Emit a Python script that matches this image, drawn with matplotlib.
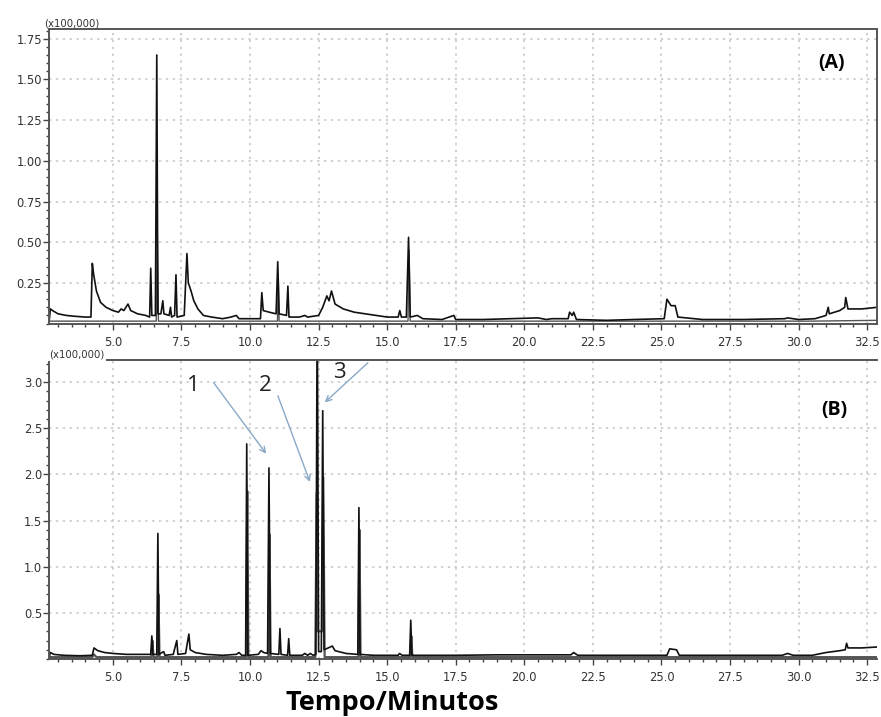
import matplotlib.pyplot as plt
from matplotlib.ticker import MultipleLocator, FormatStrFormatter

# chromatogram (A): time (min), intensity (x100,000)
tA = [2.68, 2.72, 2.80, 3.0, 3.3, 3.6, 4.0, 4.2, 4.25, 4.30, 4.40, 4.55, 4.75, 5.0,
      5.2, 5.3, 5.4, 5.55, 5.65, 5.9, 6.2, 6.34, 6.38, 6.42, 6.55, 6.60, 6.64, 6.75,
      6.82, 6.86, 7.05, 7.10, 7.14, 7.25, 7.30, 7.34, 7.60, 7.70, 7.75, 7.85, 7.95,
      8.1, 8.3, 8.6, 9.0, 9.3, 9.5, 9.6, 10.0, 10.38, 10.43, 10.48, 10.7, 10.95,
      11.01, 11.06, 11.33, 11.38, 11.42, 11.8, 12.0, 12.1, 12.5, 12.65, 12.80, 12.88,
      12.97, 13.1, 13.4, 13.8, 14.2, 14.6, 15.0, 15.40, 15.46, 15.52, 15.70, 15.78,
      15.84, 16.1, 16.3, 17.0, 17.43, 17.5, 18.5, 19.5, 20.5, 20.8, 21.0, 21.6,
      21.65, 21.75, 21.8, 21.9, 23.0, 24.0, 25.1, 25.2, 25.35, 25.5, 25.6, 26.5,
      28.0, 29.5, 29.6, 30.0, 30.6, 31.0, 31.08, 31.12, 31.5, 31.68, 31.72, 31.8,
      32.3, 32.86]
iA = [0.02, 0.09, 0.08, 0.06, 0.05, 0.045, 0.04, 0.04, 0.37, 0.30, 0.20, 0.13, 0.10, 0.08,
      0.07, 0.09, 0.08, 0.12, 0.08, 0.06, 0.05, 0.04, 0.34, 0.05, 0.05, 1.65, 0.06, 0.06,
      0.14, 0.06, 0.05, 0.10, 0.04, 0.05, 0.30, 0.04, 0.05, 0.43, 0.25, 0.20, 0.14,
      0.09, 0.05, 0.04, 0.03, 0.04, 0.05, 0.03, 0.03, 0.03, 0.19, 0.08, 0.07, 0.06,
      0.38, 0.06, 0.05, 0.23, 0.04, 0.04, 0.05, 0.04, 0.05, 0.10, 0.17, 0.14,
      0.20, 0.12, 0.09, 0.07, 0.06, 0.05, 0.04, 0.04, 0.08, 0.04, 0.04, 0.53,
      0.04, 0.05, 0.03, 0.025, 0.05, 0.025, 0.025, 0.03, 0.035, 0.025, 0.03, 0.03,
      0.07, 0.05, 0.07, 0.025, 0.02, 0.025, 0.03, 0.15, 0.11, 0.11, 0.04, 0.025,
      0.025, 0.03, 0.035, 0.025, 0.03, 0.05, 0.10, 0.06, 0.08, 0.10, 0.16, 0.09,
      0.09, 0.10]
# second (overlaid) trace in (A)
tA2 = [2.68, 6.58, 6.62, 6.66, 11.0, 11.03, 11.06, 15.76, 15.80, 15.84, 30.5, 32.86]
iA2 = [0.015, 0.015, 0.55, 0.015, 0.015, 0.30, 0.015, 0.015, 0.45, 0.015, 0.015, 0.02]

# chromatogram (B)
tB = [2.68, 2.72, 2.85, 3.2, 3.8, 4.25, 4.31, 4.45, 4.7, 5.0, 5.5, 6.0, 6.38, 6.42,
      6.46, 6.60, 6.64, 6.68, 6.85, 6.9, 7.2, 7.33, 7.37, 7.65, 7.77, 7.82, 8.0, 8.4,
      9.0, 9.5, 9.6, 9.7, 9.84, 9.88, 9.92, 10.3, 10.4, 10.5, 10.64, 10.69, 10.74,
      11.05, 11.09, 11.13, 11.37, 11.41, 11.45, 11.9, 12.0, 12.1, 12.2, 12.3, 12.40,
      12.45, 12.50, 12.60, 12.65, 12.70, 12.85, 13.0, 13.1, 13.5, 13.93, 13.97, 14.01,
      14.5, 15.4, 15.45, 15.55, 15.82, 15.86, 15.90, 16.5, 17.5, 19.0, 20.5, 21.7,
      21.8, 21.95, 23.0, 24.5, 25.2, 25.3, 25.55, 25.65, 27.0, 29.4, 29.6, 29.8,
      30.5, 31.0, 31.5, 31.7, 31.75, 31.8, 32.3, 32.86]
iB = [0.02, 0.07, 0.05, 0.04, 0.035, 0.04, 0.12, 0.09, 0.07, 0.06, 0.05, 0.05, 0.05, 0.25,
      0.05, 0.05, 1.36, 0.05, 0.08, 0.04, 0.05, 0.20, 0.05, 0.06, 0.27, 0.10, 0.07, 0.05,
      0.04, 0.05, 0.07, 0.04, 0.04, 2.33, 0.04, 0.05, 0.09, 0.07, 0.06, 2.07, 0.06,
      0.05, 0.33, 0.05, 0.04, 0.22, 0.04, 0.04, 0.06, 0.04, 0.06, 0.04, 0.05,
      4.00, 0.08, 0.08, 2.69, 0.10, 0.12, 0.14, 0.09, 0.06, 0.05, 1.64, 0.05,
      0.04, 0.04, 0.06, 0.04, 0.04, 0.42, 0.04, 0.04, 0.04, 0.045, 0.045, 0.045,
      0.07, 0.04, 0.04, 0.04, 0.04, 0.11, 0.10, 0.04, 0.04, 0.04, 0.06, 0.04,
      0.04, 0.07, 0.09, 0.10, 0.17, 0.12, 0.12, 0.13]
# second (overlaid) trace in (B)
tB2 = [2.68, 4.25, 4.31, 4.40, 6.40, 6.44, 6.48, 6.62, 6.66, 6.70, 9.86, 9.90, 9.94,
       10.67, 10.71, 10.75, 12.38, 12.43, 12.47, 12.55, 12.63, 12.67, 12.72, 13.95,
       13.99, 14.03, 15.84, 15.88, 15.92, 32.86]
iB2 = [0.02, 0.02, 0.05, 0.02, 0.02, 0.20, 0.02, 0.02, 0.70, 0.02, 0.02, 1.82, 0.02,
       0.02, 1.35, 0.02, 0.02, 1.80, 0.30, 0.30, 0.30, 1.97, 0.02, 0.02,
       1.40, 0.02, 0.02, 0.25, 0.02, 0.02]

xticks = [5.0, 7.5, 10.0, 12.5, 15.0, 17.5, 20.0, 22.5, 25.0, 27.5, 30.0, 32.5]
yticksA = [0.25, 0.50, 0.75, 1.00, 1.25, 1.50, 1.75]
yticksB = [0.5, 1.0, 1.5, 2.0, 2.5, 3.0]

fig = plt.figure(figsize=(8.81, 7.17), dpi=100)
axA = fig.add_axes([0.0556, 0.5487, 0.9399, 0.4109])
axB = fig.add_axes([0.0556, 0.0809, 0.9399, 0.4170])

tick_col = "#333333"
for ax in (axA, axB):
    ax.set_xlim(2.67, 32.86)
    ax.set_xticks(xticks)
    ax.xaxis.set_major_formatter(FormatStrFormatter("%.1f"))
    ax.xaxis.set_minor_locator(MultipleLocator(0.5))
    ax.grid(True, which="major", color="#c4c4c4", ls=(0, (1.5, 3)), lw=1.1)
    ax.tick_params(which="both", direction="out", colors="#444444",
                   labelsize=8.3, labelcolor=tick_col, width=1.0)
    ax.tick_params(which="major", length=4)
    ax.tick_params(which="minor", length=2.5)
    ax.tick_params(axis="y", which="both", pad=1)
    ax.tick_params(axis="x", which="both", pad=5)
    for s in ax.spines.values():
        s.set_color("#555555")
        s.set_linewidth(1.4)

axA.plot(tA2, iA2, color="#555555", lw=1.0)
axA.plot(tA, iA, color="#111111", lw=1.2)
axA.set_ylim(0.0, 1.81)
axA.set_yticks(yticksA)
axA.yaxis.set_major_formatter(FormatStrFormatter("%.2f"))
axA.yaxis.set_minor_locator(MultipleLocator(0.05))
axA.text(31.2, 1.60, "(A)", fontsize=14, fontweight="bold", ha="center", va="center",
         family="Open Sans")
axA.text(0.028, 1.003, "(x100,000)", transform=axA.transAxes, fontsize=7.3,
         color=tick_col, ha="center", va="bottom")

axB.plot(tB2, iB2, color="#555555", lw=1.6)
axB.plot(tB, iB, color="#111111", lw=1.2)
axB.set_ylim(0.0, 3.24)
axB.set_yticks(yticksB)
axB.yaxis.set_major_formatter(FormatStrFormatter("%.1f"))
axB.yaxis.set_minor_locator(MultipleLocator(0.1))
axB.spines["right"].set_visible(False)
axB.text(31.3, 2.70, "(B)", fontsize=14, fontweight="bold", ha="center", va="center",
         family="Open Sans")
axB.text(0.034, 1.003, "(x100,000)", transform=axB.transAxes, fontsize=7.3,
         color=tick_col, ha="center", va="bottom",
         bbox=dict(facecolor="white", edgecolor="none", pad=1))

arrow = dict(arrowstyle="->", color="#8aa8c8", lw=1.0)
axB.annotate("", xy=(10.65, 2.20), xytext=(8.61, 3.02), arrowprops=arrow)
axB.annotate("", xy=(12.22, 1.89), xytext=(10.98, 2.88), arrowprops=arrow)
axB.annotate("", xy=(12.65, 2.76), xytext=(14.37, 3.23), arrowprops=arrow,
             annotation_clip=False)
for lab, x, y in [("1", 7.92, 2.96), ("2", 10.54, 2.96), ("3", 13.27, 3.11)]:
    axB.text(x, y, lab, fontsize=16, ha="center", va="center", family="Open Sans",
             color="#222222")

fig.text(0.445, 0.019, "Tempo/Minutos", fontsize=19.5, fontweight="bold",
         ha="center", va="center", family="Open Sans")

fig.savefig("out.png", dpi=100)
